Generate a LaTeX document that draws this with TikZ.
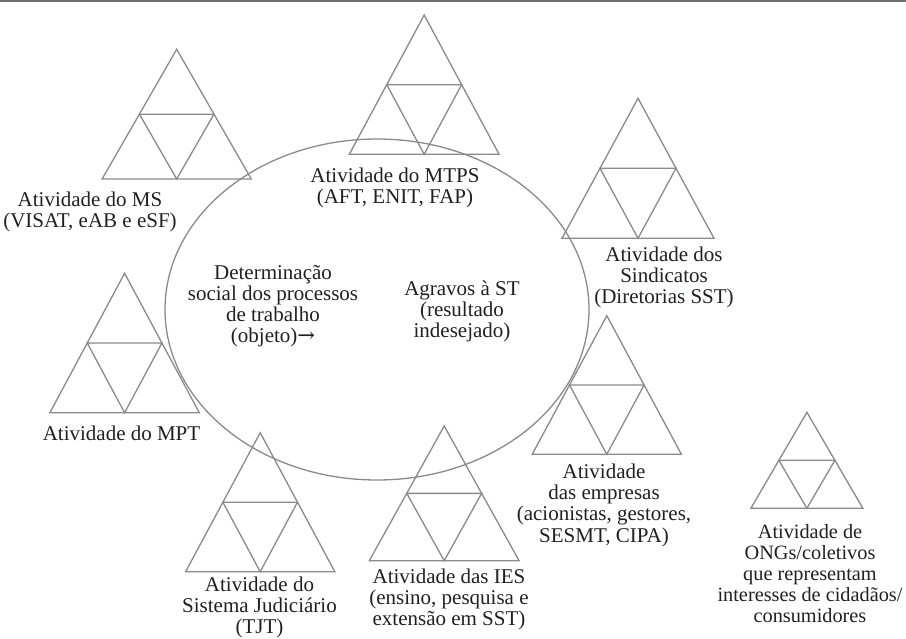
\documentclass[tikz,border=0pt]{standalone}
\usepackage{fontspec}
\setmainfont{Liberation Serif}
\newfontfamily\arrowfont{DejaVu Serif}
\usetikzlibrary{calc}
\definecolor{linegray}{HTML}{8A8A8A}
\definecolor{rulegray}{HTML}{6E6E6E}
\definecolor{textblack}{HTML}{231F20}
\tikzset{
  triline/.style={draw=linegray, line width=1.3pt, line join=miter},
  lbl/.style={anchor=base, align=center, inner sep=0pt, text=textblack,
    font=\fontsize{21pt}{21.2pt}\selectfont},
}
\newcommand\trifig[5]{%
  \coordinate (#1-t) at (#2,#3);
  \coordinate (#1-l) at ({#2-#5},#4);
  \coordinate (#1-r) at ({#2+#5},#4);
  \draw[triline] (#1-t) -- (#1-l) -- (#1-r) -- cycle;
  \draw[triline] ($(#1-t)!0.5!(#1-l)$) -- ($(#1-t)!0.5!(#1-r)$) -- ($(#1-l)!0.5!(#1-r)$) -- cycle;
}
\begin{document}
\begin{tikzpicture}[x=1pt,y=-1pt]
\useasboundingbox (0,0) rectangle (906,638);
\draw[rulegray, line width=2pt] (0,1) -- (906,1);
% central ellipse
\draw[linegray, line width=1.3pt] (377,309.5) ellipse [x radius=212pt, y radius=170.5pt];
% triangles
\trifig{ms}{176.7}{49.3}{179}{74.6}
\trifig{mtps}{424.2}{15}{154.3}{74.9}
\trifig{sind}{638}{98.3}{238.3}{76}
\trifig{mpt}{124.6}{273.3}{412.7}{74.7}
\trifig{emp}{606.8}{315.7}{454.3}{74.6}
\trifig{ong}{806.9}{412.3}{508.3}{56}
\trifig{jud}{260.2}{432.7}{571.7}{74.6}
\trifig{ies}{444.2}{426}{560.7}{74.9}
% labels (anchor = baseline of last line)
\node[lbl] (tms) at (90,227.2) {Atividade do MS\\(VISAT, eAB e eSF)};
\node[lbl] (tmtps) at (395,203.2) {Atividade do MTPS\\(AFT, ENIT, FAP)};
\node[lbl] (tsind) at (664,303.9) {Atividade dos\\Sindicatos\\(Diretorias SST)};
\node[lbl] (tdet) at (273,342.6) {Determinação\\social dos processos\\de trabalho\\(objeto){\arrowfont →}};
\node[lbl] (tagr) at (462,337.4) {Agravos à ST\\(resultado\\indesejado)};
\node[lbl] (tmpt) at (121.5,440.5) {Atividade do MPT};
\node[lbl] (temp) at (604,542.1) {Atividade\\das empresas\\(acionistas, gestores,\\SESMT, CIPA)};
\node[lbl, font=\fontsize{20.3pt}{21.2pt}\selectfont] (tong) at (810,622.8) {Atividade de\\ONGs/coletivos\\que representam\\interesses de cidadãos/\\consumidores};
\node[lbl] (tjud) at (259.5,633.5) {Atividade do\\Sistema Judiciário\\(TJT)};
\node[lbl] (ties) at (449,625.4) {Atividade das IES\\(ensino, pesquisa e\\extensão em SST)};
\end{tikzpicture}
\end{document}
